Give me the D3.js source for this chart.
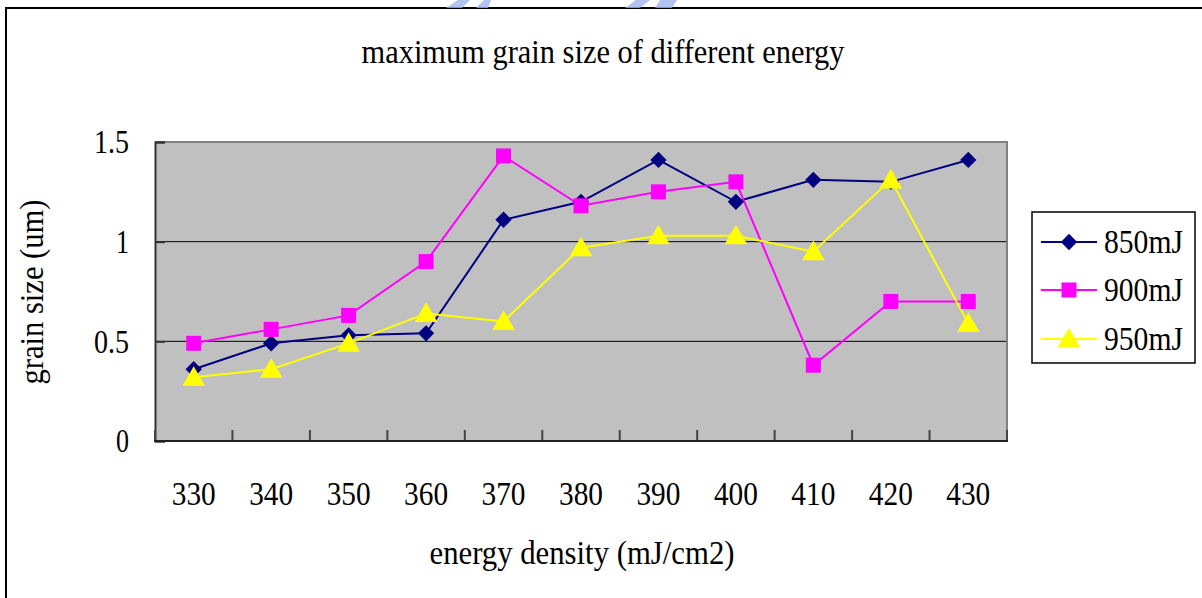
<!DOCTYPE html>
<html><head><meta charset="utf-8">
<script src="https://cdn.jsdelivr.net/npm/d3@7"></script>
<style>body{margin:0;background:#fff}svg{display:block}text{font-family:"Liberation Serif","Times New Roman",serif;fill:#000}</style>
</head><body>
<svg id="c" width="1202" height="598"></svg>
<script>
const categories = [330,340,350,360,370,380,390,400,410,420,430];
const s850 = [0.36,0.49,0.53,0.54,1.11,1.20,1.41,1.20,1.31,1.30,1.41];
const s900 = [0.49,0.56,0.63,0.90,1.43,1.18,1.25,1.30,0.38,0.70,0.70];
const s950 = [0.32,0.36,0.49,0.64,0.60,0.97,1.03,1.03,0.95,1.31,0.59];
const seriesNames = ["850mJ","900mJ","950mJ"];
const yTicks = [0,0.5,1,1.5];
const titleText = "maximum grain size of different energy";
const xTitle = "energy density (mJ/cm2)";
const yTitle = "grain size (um)";

const colors = ["#000080","#FF00FF","#FFFF00"];
const shapes = [d3.symbolDiamond2, d3.symbolSquare, d3.symbolTriangle];
const sizes = [170, 225, 220];
const series = [s850,s900,s950];

const svg = d3.select("#c");
svg.append("path").attr("d","M6,598 L6,8 L1202,8").attr("fill","none").attr("stroke","#000").attr("stroke-width",2);
svg.append("path").attr("d","M446,8 L458,0 L470,0 L462,8 Z M476,8 L484,0 L491,0 L488,8 Z").attr("fill","#9fb3ee").attr("opacity",0.8);
svg.append("path").attr("d","M625,8 L636,0 L650,0 L640,8 Z M655,8 L660,0 L677,0 L672,8 Z").attr("fill","#9fb3ee").attr("opacity",0.8);

const L=155, R=1007, T=142, B=441;
const x = d3.scaleBand().domain(categories).range([L,R]);
const y = d3.scaleLinear().domain([0,1.5]).range([B,T]);
const FS = 33;

svg.append("rect").attr("x",L).attr("y",T).attr("width",R-L).attr("height",B-T).attr("fill","#C0C0C0");
svg.append("g").selectAll("line").data(yTicks.filter(v=>v>0&&v<1.5)).join("line")
  .attr("x1",L).attr("x2",R).attr("y1",d=>y(d)).attr("y2",d=>y(d)).attr("stroke","#000").attr("stroke-width",1);
svg.append("path").attr("d",`M${L},${T} L${R},${T} L${R},${B}`).attr("fill","none").attr("stroke","#808080").attr("stroke-width",2);

// y axis
const yAx = svg.append("g").attr("transform",`translate(${L},0)`)
  .call(d3.axisLeft(y).tickValues(yTicks).tickSize(-10).tickPadding(26).tickFormat(d3.format("")));
yAx.select(".domain").attr("stroke","#333").attr("stroke-width",2);
yAx.selectAll(".tick line").attr("stroke","#333").attr("stroke-width",2);
yAx.selectAll("text").attr("font-size",FS).attr("font-family",null).attr("fill","#000").attr("dy","0.33em")
  .attr("textLength",d=>String(d).length===1?13:35).attr("lengthAdjust","spacingAndGlyphs");

// x axis
const bounds = categories.map(c=>x(c)).concat([R]);
svg.append("g").selectAll("line").data(bounds).join("line")
  .attr("x1",d=>d).attr("x2",d=>d).attr("y1",B).attr("y2",B-11).attr("stroke","#444").attr("stroke-width",2);
svg.append("line").attr("x1",L-1).attr("x2",R+1).attr("y1",B).attr("y2",B).attr("stroke","#222").attr("stroke-width",2);
svg.append("g").selectAll("text").data(categories).join("text")
  .attr("x",d=>x(d)+x.bandwidth()/2).attr("y",505).attr("text-anchor","middle").attr("font-size",FS)
  .attr("textLength",44).attr("lengthAdjust","spacingAndGlyphs")
  .text(d=>d);

// lines & markers
const line = d3.line().x((d,i)=>x(categories[i])+x.bandwidth()/2).y(d=>y(d));
series.forEach((s,k)=>{
  svg.append("path").datum(s).attr("d",line).attr("fill","none").attr("stroke",colors[k]).attr("stroke-width",2);
});
series.forEach((s,k)=>{
  svg.append("g").selectAll("path").data(s).join("path")
    .attr("transform",(d,i)=>`translate(${x(categories[i])+x.bandwidth()/2},${y(d)+(k===2?2:0)})`)
    .attr("d",d3.symbol().type(shapes[k]).size(sizes[k])).attr("fill",colors[k]);
});

// titles
svg.append("text").attr("x",603).attr("y",63).attr("text-anchor","middle").attr("font-size",FS)
  .attr("textLength",483).attr("lengthAdjust","spacingAndGlyphs").text(titleText);
svg.append("text").attr("x",582).attr("y",564).attr("text-anchor","middle").attr("font-size",FS)
  .attr("textLength",305).attr("lengthAdjust","spacingAndGlyphs").text(xTitle);
svg.append("text").attr("transform","translate(43,292) rotate(-90)").attr("text-anchor","middle").attr("font-size",FS)
  .attr("textLength",185).attr("lengthAdjust","spacingAndGlyphs").text(yTitle);

// legend
const lg = svg.append("g");
lg.append("rect").attr("x",1032).attr("y",212).attr("width",163).attr("height",151).attr("fill","#fff").attr("stroke","#000").attr("stroke-width",1.5);
const ly = [242,290,339];
seriesNames.forEach((n,k)=>{
  lg.append("line").attr("x1",1041).attr("x2",1097).attr("y1",ly[k]).attr("y2",ly[k]).attr("stroke",colors[k]).attr("stroke-width",2);
  lg.append("path").attr("transform",`translate(1069,${ly[k]+(k===2?2:0)})`).attr("d",d3.symbol().type(shapes[k]).size(sizes[k])).attr("fill",colors[k]);
  lg.append("text").attr("x",1104).attr("y",ly[k]+11).attr("font-size",FS).attr("textLength",79).attr("lengthAdjust","spacingAndGlyphs").text(n);
});
</script>
</body></html>
